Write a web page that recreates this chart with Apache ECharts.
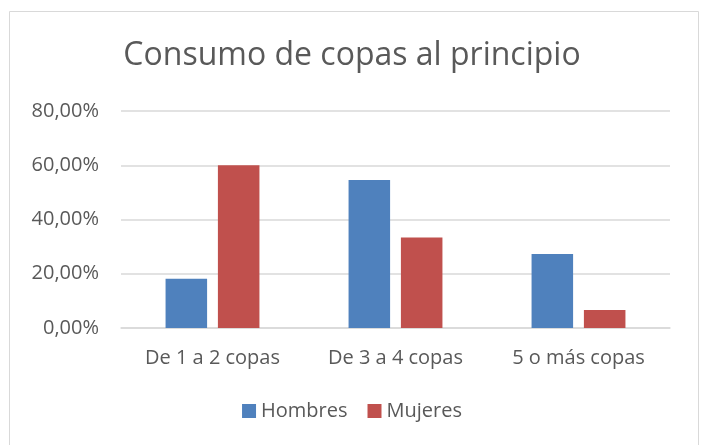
<!DOCTYPE html>
<html>
<head>
<meta charset="utf-8">
<script src="https://cdn.jsdelivr.net/npm/echarts@6/dist/echarts.min.js"></script>
<style>
  html, body { margin: 0; padding: 0; background: #fff; }
  #chart { width: 704px; height: 445px; }
</style>
</head>
<body>
<div id="chart"></div>
<script>
// datos
const categories = ["De 1 a 2 copas", "De 3 a 4 copas", "5 o más copas"];
const hombres = [18.18, 54.55, 27.27];
const mujeres = [60.0, 33.33, 6.67];
const seriesNames = ["Hombres", "Mujeres"];

const textColor = "#595959";
const font = "Open Sans";

let chart = echarts.init(document.getElementById("chart"));
chart.setOption({
  animation: false,
  textStyle: { fontFamily: font },
  title: {
    text: "Consumo de copas al principio",
    left: "center",
    top: 35,
    textStyle: { fontFamily: font, fontSize: 32, fontWeight: "normal", color: textColor }
  },
  graphic: [
    {
      type: "rect",
      shape: { x: 9.5, y: 11.5, width: 689, height: 440 },
      style: { fill: "none", stroke: "#D9D9D9", lineWidth: 1 },
      silent: true
    }
  ],
  legend: {
    data: seriesNames,
    bottom: 19,
    left: "center",
    itemWidth: 14,
    itemHeight: 14,
    itemGap: 20,
    icon: "rect",
    textStyle: { fontFamily: font, fontSize: 20, color: textColor }
  },
  grid: {
    left: 121,
    right: 34,
    top: 111,
    bottom: 117
  },
  xAxis: {
    type: "category",
    data: categories,
    axisTick: { show: false },
    axisLine: { lineStyle: { color: "#D9D9D9", width: 1.5 } },
    axisLabel: { color: textColor, fontSize: 20, margin: 20 }
  },
  yAxis: {
    type: "value",
    min: 0,
    max: 80,
    interval: 20,
    axisLine: { show: false },
    axisTick: { show: false },
    splitLine: { lineStyle: { color: "#D9D9D9", width: 1.5 } },
    axisLabel: {
      color: textColor,
      fontSize: 20,
      margin: 22,
      formatter: v => v.toFixed(2).replace(".", ",") + "%"
    }
  },
  series: [
    {
      name: seriesNames[0],
      type: "bar",
      data: hombres,
      barWidth: "22.7%",
      barGap: "26%",
      itemStyle: { color: "#4F81BD" }
    },
    {
      name: seriesNames[1],
      type: "bar",
      data: mujeres,
      barWidth: "22.7%",
      itemStyle: { color: "#C0504D" }
    }
  ]
});
</script>
</body>
</html>
